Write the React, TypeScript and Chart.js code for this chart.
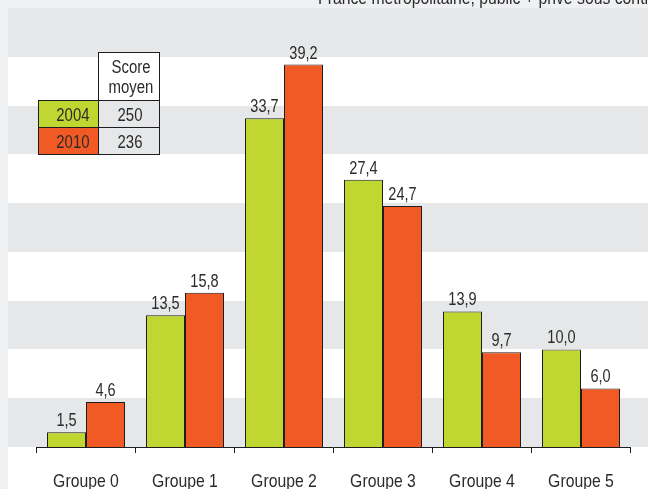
import React, { useEffect, useRef } from 'react';
import { Chart, registerables } from 'chart.js';

Chart.register(...registerables);

// Share of pupils per group (%), 2004 vs 2010
const categories = ['Groupe 0', 'Groupe 1', 'Groupe 2', 'Groupe 3', 'Groupe 4', 'Groupe 5'];
const years = ['2004', '2010'];
const shares2004 = [1.5, 13.5, 33.7, 27.4, 13.9, 10.0];
const shares2010 = [4.6, 15.8, 39.2, 24.7, 9.7, 6.0];
const meanScores = [250, 236];
const meanScoreHeader = ['Score', 'moyen'];
const bandStarts = [0, 10, 20, 30, 40];
const bandSize = 5;
const scopeNote = 'France métropolitaine, public + privé sous contrat';

const FONT = '"Liberation Sans", Arial, sans-serif';
const NARROW = 0.83; // horizontal squeeze to get a condensed face
const TEXT = '#2b2b2b';
const GREEN = '#bfd730';
const ORANGE = '#f15a24';
const OUTLINE = '#1e1e1e';
const BAND = '#e6e7e8';
const PAGE = '#eff0f2';

const fmt = (v: number) => v.toFixed(1).replace('.', ',');

function narrowText(
  ctx: CanvasRenderingContext2D,
  text: string,
  x: number,
  y: number,
  size: number,
  align: CanvasTextAlign,
  baseline: CanvasTextBaseline,
) {
  ctx.save();
  ctx.translate(x, y);
  ctx.scale(NARROW, 1);
  ctx.font = `${size}px ${FONT}`;
  ctx.textAlign = align;
  ctx.textBaseline = baseline;
  ctx.fillStyle = TEXT;
  ctx.fillText(text, 0, 0);
  ctx.restore();
}

const panelPlugin = {
  id: 'panel',
  beforeDraw(chart: any) {
    const { ctx, width, height } = chart;
    const y = chart.scales.y;
    ctx.save();
    ctx.fillStyle = PAGE;
    ctx.fillRect(0, 0, width, height);
    ctx.fillStyle = '#ffffff';
    ctx.fillRect(8, 8, width - 8, height - 8);
    ctx.fillStyle = BAND;
    bandStarts.forEach((start) => {
      const top = Math.round(y.getPixelForValue(start + bandSize));
      const bottom = Math.round(y.getPixelForValue(start));
      ctx.fillRect(8, top, width - 8, bottom - top);
    });
    ctx.restore();
    narrowText(ctx, scopeNote, 318, 4, 19, 'left', 'alphabetic');
  },
};

const valueLabelPlugin = {
  id: 'valueLabels',
  afterDatasetsDraw(chart: any) {
    const { ctx } = chart;
    chart.data.datasets.forEach((ds: any, i: number) => {
      const meta = chart.getDatasetMeta(i);
      meta.data.forEach((bar: any, j: number) => {
        narrowText(ctx, fmt(ds.data[j]), bar.x, bar.y - 6, 17.5, 'center', 'alphabetic');
      });
    });
  },
};

const categoryLabelPlugin = {
  id: 'categoryLabels',
  afterDraw(chart: any) {
    const { ctx } = chart;
    const x = chart.scales.x;
    categories.forEach((c, i) => {
      narrowText(ctx, c, x.getPixelForValue(i), 487, 19, 'center', 'alphabetic');
    });
  },
};

const scoreTablePlugin = {
  id: 'scoreTable',
  afterDraw(chart: any) {
    const { ctx } = chart;
    const left = 38.5;
    const mid = 98.5;
    const right = 159.5;
    const headTop = 52.5;
    const rowTops = [100.5, 127.5];
    const rowH = 27;
    ctx.save();
    ctx.lineWidth = 1;
    ctx.strokeStyle = OUTLINE;
    ctx.fillStyle = '#ffffff';
    ctx.fillRect(mid, headTop, right - mid, rowTops[0] - headTop);
    ctx.strokeRect(mid, headTop, right - mid, rowTops[0] - headTop);
    chart.data.datasets.forEach((ds: any, i: number) => {
      const top = rowTops[i];
      ctx.fillStyle = ds.backgroundColor;
      ctx.fillRect(left, top, mid - left, rowH);
      ctx.strokeRect(left, top, mid - left, rowH);
      ctx.fillStyle = BAND;
      ctx.fillRect(mid, top, right - mid, rowH);
      ctx.strokeRect(mid, top, right - mid, rowH);
    });
    ctx.restore();
    const headCenter = (mid + right) / 2 + 2;
    narrowText(ctx, meanScoreHeader[0], headCenter, 73, 18, 'center', 'alphabetic');
    narrowText(ctx, meanScoreHeader[1], headCenter, 93, 18, 'center', 'alphabetic');
    chart.data.datasets.forEach((ds: any, i: number) => {
      const base = rowTops[i] + 20;
      narrowText(ctx, ds.label, mid - 9, base, 18, 'right', 'alphabetic');
      narrowText(ctx, String(meanScores[i]), (mid + right) / 2 + 1, base, 18, 'center', 'alphabetic');
    });
  },
};

export default function App() {
  const canvasRef = useRef<HTMLCanvasElement | null>(null);

  useEffect(() => {
    const canvas = canvasRef.current;
    if (!canvas) return;
    const barShare = 78 / 99;
    const chart = new Chart(canvas, {
      type: 'bar',
      data: {
        labels: categories,
        datasets: [
          {
            label: years[0],
            data: shares2004,
            backgroundColor: GREEN,
            borderColor: OUTLINE,
            borderWidth: 1,
            categoryPercentage: barShare,
            barPercentage: 1,
          },
          {
            label: years[1],
            data: shares2010,
            backgroundColor: ORANGE,
            borderColor: OUTLINE,
            borderWidth: 1,
            categoryPercentage: barShare,
            barPercentage: 1,
          },
        ],
      },
      options: {
        responsive: false,
        animation: false,
        devicePixelRatio: 1,
        layout: { padding: { left: 36.5, right: 17.5, top: 8, bottom: 36 } },
        plugins: {
          legend: { display: false },
          tooltip: { enabled: false },
        },
        scales: {
          x: {
            grid: {
              display: true,
              drawOnChartArea: false,
              drawTicks: true,
              tickLength: 6,
              color: OUTLINE,
              lineWidth: 1,
              offset: true,
            },
            border: { display: true, color: OUTLINE, width: 1 },
            ticks: { display: false },
          },
          y: { display: false, min: 0, max: 45 },
        },
      },
      plugins: [panelPlugin, valueLabelPlugin, categoryLabelPlugin, scoreTablePlugin],
    });
    return () => chart.destroy();
  }, []);

  return (
    <div style={{ position: 'fixed', left: 0, top: 0, width: 648, height: 489 }}>
      <canvas ref={canvasRef} width={648} height={489} />
    </div>
  );
}
